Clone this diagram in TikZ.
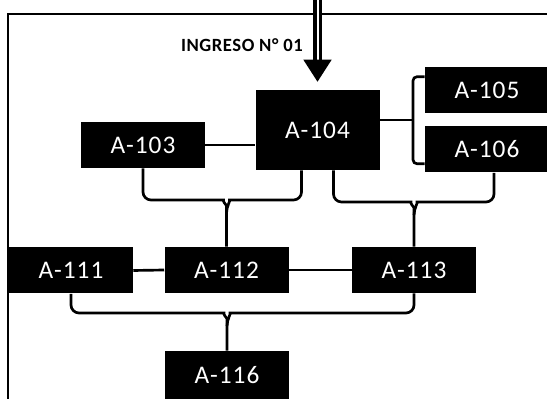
\documentclass[tikz,border=0pt]{standalone}
\usepackage{fontspec}
\usepackage{tikz}
\usetikzlibrary{calc,arrows.meta}
\newfontfamily\roomfont[LetterSpace=4]{Carlito}
\newfontfamily\tagfont[LetterSpace=3]{Carlito}

\begin{document}
\begin{tikzpicture}[x=0.75pt,y=0.75pt,
  room/.style={fill=black,text=white,inner sep=0pt,minimum width=93pt,
    minimum height=34.5pt,font=\roomfont\fontsize{19}{22}\selectfont},
  link/.style={draw=black,line width=2pt},
  frame/.style={draw=black,line width=1.5pt},
  shaft/.style={draw=black,line width=2.6pt,double=white,double distance=1.5pt},
  head/.style={draw=black,line width=1pt,-{Triangle[length=16.5pt,width=21pt]}},
  tag/.style={font=\tagfont\bfseries\fontsize{14}{16}\selectfont,inner sep=0pt}]
\useasboundingbox (0,0) rectangle (547,399);
\clip (0,0) rectangle (547,399);
\draw[frame] (8,-5) -- (8,385) -- (552,385);
% rooms
\node[room] (a103) at (143,254) {A-103};
\node[room,minimum height=60pt] (a104) at (317.5,269) {A-104};
\node[room] (a105) at (487,309) {A-105};
\node[room] (a106) at (487,249.5) {A-106};
\node[room] (a111) at (71,128.5) {A-111};
\node[room] (a112) at (226.5,129) {A-112};
\node[room] (a113) at (414,129) {A-113};
\node[room,minimum height=36pt] (a116) at (227,24) {A-116};
% entrance
\node[tag,anchor=east] (ingreso) at (303,354) {INGRESO N° 01};
\coordinate (entry) at (a104.north |- 0,405);
\draw[shaft] (entry) -- ([yshift=22pt]a104.north);
\draw[head] ([yshift=22.5pt]a104.north) -- ([yshift=6pt]a104.north);
% straight links
\draw[link] (a103.east) -- (a103.east -| a104.west);
\draw[link] (a111.east) -- (a112.west);
\draw[link] (a112.east) -- (a113.west);
\coordinate (fork) at (413,279);
\draw[link] (a104.east |- fork) -- (fork);
\draw[link,rounded corners=3] ($(a105.north west)+(0,-10)$) -| (fork)
  |- ($(a106.south west)+(0,9)$);
% braces down to the next level
\coordinate (s1) at ($(a104.south)+(-16,0)$);
\coordinate (s2) at ($(a104.south)+(16,0)$);
\coordinate (s3) at ($(a106.south)+(7,0)$);
\coordinate (b1) at (a112.north |- 0,199);
\coordinate (b2) at (a113.north |- 0,197);
\coordinate (b3) at (a116.north |- 0,86);
\foreach \l/\r/\m/\t in {a103.south/s1/b1/a112,s2/s3/b2/a113,a111.south/a113.south/b3/a116}{
  \draw[link,rounded corners=6] (\l) |- ($(\m)+(-11,0)$) to[out=0,in=90] ($(\m)+(0,-13)$)
    -- (\t.north);
  \draw[link,rounded corners=6] (\r) |- ($(\m)+(11,0)$) to[out=180,in=90] ($(\m)+(0,-13)$);
}
\end{tikzpicture}
\end{document}
